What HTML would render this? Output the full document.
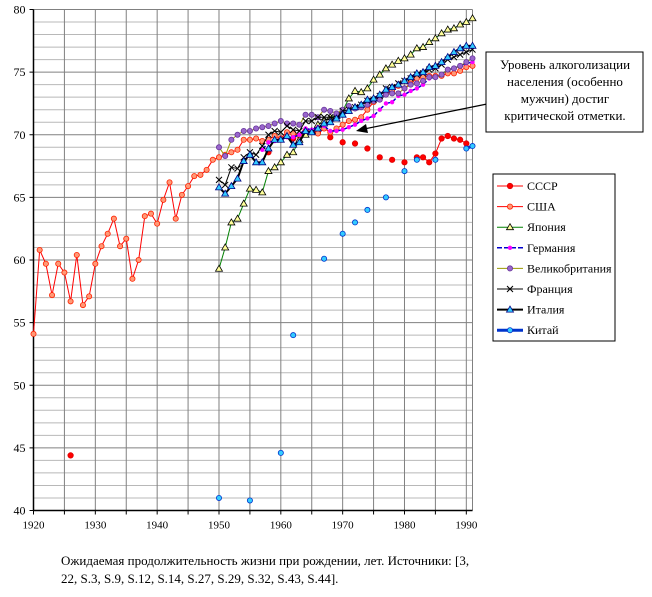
<!DOCTYPE html>
<html><head><meta charset="utf-8"><style>
body{margin:0;background:#fff;width:652px;height:592px;overflow:hidden}
svg text{font-family:"Liberation Serif",serif}
</style></head><body>
<svg id="chart" width="652" height="592" xmlns="http://www.w3.org/2000/svg">
<g id="grid"></g>
<g id="axes"></g>
<g id="series"></g>
<g>
<line x1="487" y1="104" x2="364" y2="129" stroke="#000" stroke-width="1.2"/>
<polygon points="356,131 366,124 368,133" fill="#000"/>
<rect x="486" y="52" width="157" height="80" fill="#fff" stroke="#000"/>
<text x="565" y="69" font-size="13" text-anchor="middle">Уровень алкоголизации</text>
<text x="565" y="86" font-size="13" text-anchor="middle">населения (особенно</text>
<text x="565" y="103" font-size="13" text-anchor="middle">мужчин) достиг</text>
<text x="565" y="120" font-size="13" text-anchor="middle">критической отметки.</text>
</g>
<g id="legend"><rect x="493" y="174" width="122" height="167" fill="#fff" stroke="#000"/></g>
<text x="61" y="565" font-size="13">Ожидаемая продолжительность жизни при рождении, лет. Источники: [3,</text>
<text x="61" y="583" font-size="13">22, S.3, S.9, S.12,  S.14, S.27, S.29, S.32, S.43, S.44].</text>
</svg>
<script>
const xTicks=[1920,1930,1940,1950,1960,1970,1980,1990];
const yTicks=[40,45,50,55,60,65,70,75,80];
const ussrYears=[1926,1958,1960,1962,1964,1966,1968,1970,1972,1974,1976,1978,1980,1982,1983,1984,1985,1986,1987,1988,1989,1990];
const ussrVals=[44.4,68.6,69.7,69.7,70.3,70.2,69.8,69.4,69.3,68.9,68.2,68.0,67.8,68.2,68.2,67.8,68.5,69.7,69.9,69.7,69.6,69.3];
const usaYears=[];for(let y=1920;y<=1991;y++)usaYears.push(y);
const usaVals=[54.1,60.8,59.7,57.2,59.7,59.0,56.7,60.4,56.4,57.1,59.7,61.1,62.1,63.3,61.1,61.7,58.5,60.0,63.5,63.7,62.9,64.8,66.2,63.3,65.2,65.9,66.7,66.8,67.2,68.0,68.2,68.4,68.6,68.8,69.6,69.6,69.7,69.5,69.6,69.9,69.7,70.2,70.1,69.9,70.2,70.2,70.1,70.5,70.2,70.5,70.8,71.1,71.2,71.4,72.0,72.6,72.9,73.3,73.5,73.9,73.7,74.1,74.5,74.6,74.7,74.7,74.7,74.9,74.9,75.1,75.4,75.5];
const postwarYears=[];for(let y=1950;y<=1991;y++)postwarYears.push(y);
const japanVals=[59.3,61.0,63.0,63.3,64.5,65.7,65.6,65.4,67.1,67.4,67.8,68.4,68.6,69.6,70.0,70.3,70.8,71.1,71.4,71.5,71.9,72.9,73.5,73.4,73.7,74.4,74.8,75.3,75.6,75.9,76.1,76.4,76.9,77.0,77.4,77.7,78.1,78.4,78.5,78.8,79.0,79.3];
const germanyYears=[];for(let y=1957;y<=1991;y++)germanyYears.push(y);
const germanyVals=[68.8,69.4,69.5,69.6,69.8,69.8,70.0,70.5,70.4,70.6,70.7,70.3,70.3,70.4,70.6,70.8,71.1,71.3,71.5,72.0,72.5,72.6,73.1,73.2,73.5,73.7,74.0,74.5,74.6,74.8,75.2,75.3,75.5,75.7,75.8];
const ukVals=[69.0,68.3,69.6,70.0,70.3,70.3,70.5,70.6,70.7,70.9,71.1,70.9,70.9,70.8,71.6,71.6,71.4,72.0,71.9,71.7,72.0,72.3,72.1,72.2,72.4,72.7,72.8,73.2,73.3,73.3,73.7,74.0,74.1,74.3,74.6,74.6,74.8,75.2,75.3,75.5,75.8,76.1];
const franceVals=[66.4,66.0,67.4,67.3,68.2,68.6,68.4,69.1,70.0,70.3,70.2,70.7,70.4,70.3,71.1,71.1,71.4,71.4,71.4,71.3,71.9,72.0,72.2,72.4,72.7,72.8,73.1,73.7,73.8,74.1,74.3,74.5,74.8,74.9,75.2,75.3,75.6,76.0,76.2,76.4,76.6,76.8];
const italyVals=[65.8,65.3,65.9,66.5,67.9,68.4,67.8,67.8,68.9,69.6,69.6,69.9,69.2,69.4,70.3,70.2,70.5,70.9,71.0,71.3,71.6,71.9,72.2,72.4,72.8,72.9,73.2,73.6,73.8,74.0,74.3,74.6,74.9,75.0,75.4,75.5,75.8,76.2,76.6,76.9,77.1,77.1];
const chinaYears=[1950,1955,1960,1962,1967,1970,1972,1974,1977,1980,1982,1985,1990,1991];
const chinaVals=[41.0,40.8,44.6,54.0,60.1,62.1,63.0,64.0,65.0,67.1,68.0,68.0,68.9,69.1];

const NS='http://www.w3.org/2000/svg';
const X0=33.5,X1=472.5,Y0=9.5,Y1=510.5,XMIN=1920,XMAX=1991,YMIN=40,YMAX=80;
const xs=y=>X0+(y-XMIN)*(X1-X0)/(XMAX-XMIN);
const ys=v=>Y1-(v-YMIN)*(Y1-Y0)/(YMAX-YMIN);
function mk(tag,attrs,parent){const e=document.createElementNS(NS,tag);for(const k in attrs)e.setAttribute(k,attrs[k]);parent.appendChild(e);return e;}
const grid=document.getElementById('grid'),axes=document.getElementById('axes'),ser=document.getElementById('series');
for(let v=YMIN;v<=YMAX;v++){const l=mk('line',{x1:X0,x2:X1,y1:ys(v),y2:ys(v),stroke:v%5?'#b8b8b8':'#808080','stroke-width':1},grid);

}
for(let y=1925;y<=1990;y+=5){const l=mk('line',{x1:xs(y),x2:xs(y),y1:Y0,y2:Y1,stroke:'#808080','stroke-width':1},grid);

}
mk('line',{x1:X1,x2:X1,y1:Y0,y2:Y1,stroke:'#808080'},grid);
mk('line',{x1:X0,x2:X0,y1:Y0,y2:Y1,stroke:'#000','stroke-width':1.5},axes);
mk('line',{x1:X0,x2:X1,y1:Y1,y2:Y1,stroke:'#000','stroke-width':1.5},axes);
yTicks.forEach(v=>{mk('line',{x1:X0-4,x2:X0,y1:ys(v),y2:ys(v),stroke:'#000'},axes);
const t=mk('text',{x:X0-8,y:ys(v)+4,'font-size':12,'text-anchor':'end'},axes);t.textContent=v;

});
for(let y=1920;y<=1990;y+=5)mk('line',{x1:xs(y),x2:xs(y),y1:Y1,y2:Y1+4,stroke:'#000'},axes);
xTicks.forEach(y=>{const t=mk('text',{x:xs(y),y:Y1+18,'font-size':11,'text-anchor':'middle'},axes);t.textContent=y;

});

function marker(g,type,x,y){
 if(type.m==='circle')return mk('circle',{cx:x,cy:y,r:type.r,fill:type.fill,stroke:type.stroke,'stroke-width':0.8},g);
 if(type.m==='tri')return mk('polygon',{points:`${x},${y-3.5} ${x-3.5},${y+2.5} ${x+3.5},${y+2.5}`,fill:type.fill,stroke:type.stroke,'stroke-width':0.8},g);
 if(type.m==='x'){const p=mk('path',{d:`M${x-3},${y-3}L${x+3},${y+3}M${x+3},${y-3}L${x-3},${y+3}`,stroke:'#000','stroke-width':1,fill:'none'},g);return p;}
}
const styles=[
 {name:'СССР',key:'ussr',years:ussrYears,vals:ussrVals,line:'#ff0000',w:1,m:'circle',r:2.7,fill:'#ff0000',stroke:'#e00000'},
 {name:'США',key:'usa',years:usaYears,vals:usaVals,line:'#ff0000',w:1,m:'circle',r:2.6,fill:'#ff9977',stroke:'#ff2200'},
 {name:'Япония',key:'japan',years:postwarYears,vals:japanVals,line:'#008000',w:1,m:'tri',fill:'#ffff99',stroke:'#000'},
 {name:'Германия',key:'germany',years:germanyYears,vals:germanyVals,line:'#0000cc',w:1.5,dash:'5,2',m:'circle',r:1.8,fill:'#ff00ff',stroke:'#ff00ff'},
 {name:'Великобритания',key:'uk',years:postwarYears,vals:ukVals,line:'#999900',w:1,m:'circle',r:2.6,fill:'#9966cc',stroke:'#663399'},
 {name:'Франция',key:'france',years:postwarYears,vals:franceVals,line:'#000',w:1,m:'x'},
 {name:'Италия',key:'italy',years:postwarYears,vals:italyVals,line:'#000',w:2,m:'tri',fill:'#33ccff',stroke:'#000080'},
 {name:'Китай',key:'china',years:chinaYears,vals:chinaVals,line:'#0033cc',w:3,m:'circle',r:2.6,fill:'#33ccff',stroke:'#0033cc'}
];
styles.forEach(s=>{
 const g=mk('g',{},ser);
 
 
 for(let i=1;i<s.years.length;i++){
  if(s.years[i]-s.years[i-1]!==1)continue;
  const a={x1:xs(s.years[i-1]),y1:ys(s.vals[i-1]),x2:xs(s.years[i]),y2:ys(s.vals[i]),stroke:s.line,'stroke-width':s.w};
  if(s.dash)a['stroke-dasharray']=s.dash;
  const l=mk('line',a,g);
  
  
 }
 s.years.forEach((y,i)=>{const p=marker(g,s,xs(y),ys(s.vals[i]));
  
  });
});
const lg=document.getElementById('legend');
styles.forEach((s,i)=>{
 const y=186+i*20.6;
 const g=mk('g',{},lg);
 
 
 const a={x1:497,x2:523,y1:y,y2:y,stroke:s.line,'stroke-width':s.w};if(s.dash)a['stroke-dasharray']=s.dash;
 mk('line',a,g);marker(g,s,510,y);
 const t=mk('text',{x:527,y:y+4,'font-size':12},g);t.textContent=s.name;
});
</script>
</body></html>
